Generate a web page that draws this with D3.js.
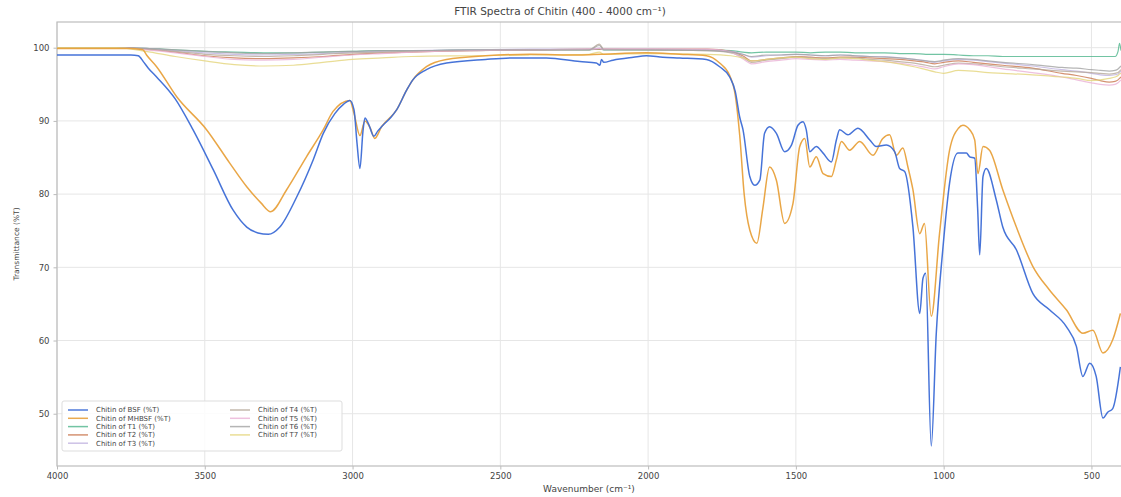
<!DOCTYPE html>
<html>
<head>
<meta charset="utf-8">
<script src="https://cdn.jsdelivr.net/npm/d3@7"></script>
<style>
  body { margin: 0; background: #fff; }
  text { font-family: "DejaVu Sans", sans-serif; fill: #444; }
</style>
</head>
<body>
<div id="chart"></div>
<script>
// FTIR spectra of chitin, wavenumber (cm-1) vs transmittance (%T)

const width = 1121
const height = 497
const margin = {top: 22, right: 0, bottom: 31, left: 57}

// the two strong spectra, [wavenumber, %T]
const bsf = [
  [4000, 99.0], [3750, 99.0], [3725, 98.9], [3708, 98.1], [3691, 97.2], [3663, 96.0],
  [3600, 93.0], [3540, 88.8], [3471, 83.3], [3404, 77.8], [3358, 75.5], [3320, 74.7],
  [3285, 74.5], [3246, 75.5], [3189, 79.6], [3133, 84.7], [3099, 88.3], [3060, 91.0],
  [3030, 92.3], [3009, 92.8], [2995, 91.5], [2985, 87.0], [2975, 83.5], [2965, 88.5],
  [2958, 90.4], [2945, 89.5], [2928, 87.9], [2915, 88.6], [2902, 89.2], [2870, 90.5],
  [2851, 91.5], [2817, 94.2], [2796, 95.6], [2750, 97.0], [2682, 97.9], [2550, 98.4],
  [2457, 98.6], [2344, 98.6], [2231, 98.1], [2175, 97.9], [2163, 97.6], [2158, 98.4],
  [2150, 98.0], [2119, 98.3], [2050, 98.7], [2006, 98.9], [1950, 98.7], [1893, 98.6],
  [1803, 98.4], [1758, 97.4], [1724, 96.0], [1705, 94.0], [1690, 90.5], [1679, 88.8],
  [1656, 82.4], [1639, 81.2], [1622, 81.9], [1606, 88.3], [1589, 89.2], [1566, 88.3],
  [1538, 85.8], [1515, 86.7], [1493, 89.4], [1476, 89.9], [1465, 88.8], [1453, 85.8],
  [1431, 86.5], [1408, 85.6], [1380, 84.4], [1363, 87.4], [1352, 88.8], [1324, 88.1],
  [1290, 89.0], [1250, 87.4], [1228, 86.5], [1194, 86.7], [1166, 85.8], [1149, 83.5],
  [1132, 83.1], [1104, 75.5], [1081, 63.7], [1070, 68.5], [1061, 69.2], [1042, 45.6],
  [1025, 61.0], [1003, 72.4], [980, 81.5], [952, 85.6], [923, 85.6], [912, 85.1],
  [895, 84.9], [885, 78.0], [878, 71.7], [867, 82.4], [856, 83.5], [822, 79.2],
  [800, 75.5], [754, 72.4], [698, 66.4], [642, 64.2], [585, 61.9], [551, 59.2],
  [529, 55.1], [506, 56.9], [484, 55.1], [461, 49.4], [445, 50.2], [428, 50.7], [402, 56.4]
]

const mhbsf = [
  [4000, 99.9], [3750, 99.9], [3720, 99.8], [3709, 99.7], [3697, 99.0], [3663, 97.4],
  [3595, 93.3], [3494, 88.8], [3415, 84.2], [3358, 81.0], [3310, 78.8], [3277, 77.6],
  [3223, 80.6], [3156, 85.1], [3099, 88.8], [3066, 91.3], [3009, 92.8], [2995, 91.0],
  [2975, 88.0], [2958, 90.0], [2940, 89.0], [2925, 87.6], [2902, 89.2], [2851, 91.5],
  [2817, 94.2], [2796, 95.6], [2750, 97.4], [2682, 98.4], [2550, 98.9], [2400, 99.1],
  [2231, 99.0], [2160, 99.1], [2006, 99.3], [1893, 99.1], [1803, 98.9], [1758, 97.9],
  [1724, 96.2], [1705, 93.5], [1690, 88.0], [1675, 80.0], [1656, 75.1], [1632, 73.3],
  [1612, 78.0], [1589, 83.7], [1566, 81.9], [1538, 76.0], [1510, 78.7], [1487, 86.5],
  [1470, 87.6], [1453, 83.7], [1431, 85.1], [1408, 82.8], [1380, 82.4], [1363, 84.7],
  [1346, 87.2], [1318, 86.0], [1284, 87.2], [1239, 85.3], [1206, 87.6], [1183, 88.1],
  [1160, 85.3], [1138, 86.3], [1121, 83.7], [1104, 80.6], [1081, 74.6], [1065, 76.0],
  [1042, 63.3], [1014, 74.6], [980, 86.0], [950, 89.0], [935, 89.4], [912, 88.8],
  [895, 87.4], [884, 82.8], [867, 86.5], [845, 86.0], [800, 80.6], [754, 75.5],
  [698, 70.1], [642, 66.9], [585, 64.2], [529, 61.0], [495, 61.4], [461, 58.3],
  [428, 60.1], [402, 63.7]
]

// the faint T1-T7 spectra share one wavenumber grid
const paleWn = [4000, 3800, 3700, 3600, 3500, 3400, 3300, 3200, 3100, 3000, 2900, 2800,
  2600, 2400, 2200, 2165, 2150, 2000, 1800, 1720, 1680, 1650, 1600, 1550, 1500, 1450,
  1400, 1350, 1300, 1250, 1200, 1150, 1100, 1060, 1030, 1000, 950, 900, 850, 800, 700,
  600, 550, 500, 470, 440, 420, 410, 405, 400]

const t1 = [100, 100, 99.9, 99.7, 99.5, 99.4, 99.3, 99.3, 99.4, 99.5, 99.6, 99.6,
  99.7, 99.7, 99.7, 99.8, 99.7, 99.7, 99.7, 99.6, 99.4, 99.3, 99.4, 99.4, 99.4, 99.3,
  99.4, 99.4, 99.3, 99.3, 99.3, 99.2, 99.2, 99.1, 99.1, 99.1, 99.0, 98.9, 98.9, 98.8, 98.8,
  98.8, 98.8, 98.8, 98.8, 98.8, 98.8, 99.5, 100.6, 99.6]
const t2 = [100, 100, 99.8, 99.4, 98.9, 98.6, 98.5, 98.6, 98.8, 99.1, 99.3, 99.4,
  99.6, 99.7, 99.8, 99.8, 99.8, 99.8, 99.8, 99.5, 98.9, 98.2, 98.4, 98.6, 98.8, 98.7,
  98.6, 98.7, 98.7, 98.6, 98.5, 98.4, 98.2, 98.0, 97.8, 98.0, 98.2, 98.0, 97.8, 97.6, 97.2,
  96.5, 96.2, 95.8, 95.5, 95.3, 95.4, 95.6, 95.8, 96.0]
const t3 = [100, 100, 99.9, 99.6, 99.3, 99.1, 99.0, 99.1, 99.2, 99.4, 99.5, 99.6,
  99.7, 99.8, 99.8, 99.9, 99.8, 99.8, 99.7, 99.5, 99.1, 98.7, 98.9, 99.0, 99.1, 99.0,
  98.9, 99.0, 98.9, 98.8, 98.8, 98.6, 98.4, 98.2, 98.0, 98.2, 98.4, 98.3, 98.1, 97.9, 97.5,
  97.0, 96.8, 96.5, 96.3, 96.2, 96.3, 96.4, 96.6, 96.8]
const t4 = [100, 100, 99.8, 99.5, 99.1, 98.9, 98.8, 98.9, 99.1, 99.3, 99.4, 99.5,
  99.6, 99.7, 99.7, 100.5, 99.8, 99.7, 99.6, 99.3, 98.7, 98.0, 98.3, 98.5, 98.7, 98.6,
  98.5, 98.6, 98.6, 98.4, 98.3, 98.1, 97.9, 97.6, 97.4, 97.6, 97.9, 97.8, 97.6, 97.4, 97.1,
  96.8, 96.7, 96.6, 96.5, 96.4, 96.5, 96.6, 96.8, 97.0]
const t5 = [100, 100, 99.7, 99.3, 98.8, 98.4, 98.3, 98.4, 98.7, 99.0, 99.2, 99.4,
  99.6, 99.7, 99.8, 99.9, 99.8, 99.8, 99.8, 99.4, 98.5, 97.8, 98.1, 98.3, 98.5, 98.4,
  98.3, 98.4, 98.3, 98.2, 98.1, 97.9, 97.6, 97.3, 97.1, 97.4, 97.8, 97.7, 97.4, 97.1, 96.6,
  96.0, 95.6, 95.2, 95.0, 94.9, 95.0, 95.2, 95.4, 95.6]
const t6 = [100, 100, 99.9, 99.7, 99.5, 99.3, 99.2, 99.3, 99.4, 99.5, 99.6, 99.6,
  99.7, 99.7, 99.7, 100.3, 99.7, 99.7, 99.6, 99.4, 99.1, 98.8, 99.0, 99.0, 99.1, 99.0,
  98.9, 99.0, 98.9, 98.8, 98.7, 98.6, 98.4, 98.2, 98.1, 98.3, 98.5, 98.4, 98.2, 98.0, 97.7,
  97.3, 97.2, 97.0, 96.9, 96.8, 96.9, 97.1, 97.3, 97.5]
const t7 = [100, 100, 99.5, 98.8, 98.2, 97.7, 97.5, 97.6, 98.0, 98.4, 98.6, 98.8,
  98.9, 99.0, 99.1, 99.4, 99.1, 99.2, 99.1, 98.9, 98.6, 98.2, 98.4, 98.6, 98.7, 98.5,
  98.4, 98.6, 98.5, 98.3, 98.1, 97.8, 97.4, 97.0, 96.7, 96.5, 96.9, 96.8, 96.6, 96.5, 96.3,
  96.0, 95.8, 95.5, 95.6, 95.8, 96.0, 96.2, 96.4, 96.5]

const seriesNames = ["Chitin of BSF (%T)", "Chitin of MHBSF (%T)", "Chitin of T1 (%T)",
  "Chitin of T2 (%T)", "Chitin of T3 (%T)", "Chitin of T4 (%T)", "Chitin of T5 (%T)",
  "Chitin of T6 (%T)", "Chitin of T7 (%T)"]
const seriesColors = ["#3c6bd6", "#e8a13c", "#4fb58c", "#c9774f", "#bfb2e0",
  "#b5a898", "#eab2d6", "#a3a3a3", "#e4d47a"]

const xTicks = [4000, 3500, 3000, 2500, 2000, 1500, 1000, 500]
const yTicks = [50, 60, 70, 80, 90, 100]

const pale = [t1, t2, t3, t4, t5, t6, t7].map(vals => vals.map((v, i) => [paleWn[i], v]))
const allSeries = [bsf, mhbsf, ...pale]

const x = d3.scaleLinear().domain([4000, 400]).range([margin.left, width - margin.right])
const y = d3.scaleLinear().domain([42.86, 103.51]).range([height - margin.bottom, margin.top])

const svg = d3.select("#chart").append("svg")
  .attr("width", width)
  .attr("height", height)

svg.append("defs").append("clipPath").attr("id", "plot")
  .append("rect")
  .attr("x", margin.left).attr("y", margin.top)
  .attr("width", width - margin.left - margin.right)
  .attr("height", height - margin.top - margin.bottom)

// grid
svg.append("g")
  .selectAll("line.gx")
  .data(xTicks)
  .join("line")
  .attr("x1", d => x(d)).attr("x2", d => x(d))
  .attr("y1", margin.top).attr("y2", height - margin.bottom)
  .attr("stroke", "#e6e6e6")

svg.append("g")
  .selectAll("line.gy")
  .data(yTicks)
  .join("line")
  .attr("x1", margin.left).attr("x2", width - margin.right)
  .attr("y1", d => y(d)).attr("y2", d => y(d))
  .attr("stroke", "#e6e6e6")

// axes
const xAxis = svg.append("g")
  .attr("transform", `translate(0,${height - margin.bottom})`)
  .call(d3.axisBottom(x).tickValues(xTicks).tickFormat(d3.format("d")).tickSize(3.5).tickPadding(3))
const yAxis = svg.append("g")
  .attr("transform", `translate(${margin.left},0)`)
  .call(d3.axisLeft(y).tickValues(yTicks).tickSize(3.5).tickPadding(4))

for (const ax of [xAxis, yAxis]) {
  ax.select(".domain").remove()
  ax.selectAll("line").attr("stroke", "#bbb")
  ax.selectAll("text").attr("font-size", 8.5).attr("fill", "#444")
    .attr("font-family", "DejaVu Sans, sans-serif")
}

// frame
svg.append("rect")
  .attr("x", margin.left).attr("y", margin.top)
  .attr("width", width - margin.left - margin.right + 2)
  .attr("height", height - margin.top - margin.bottom)
  .attr("fill", "none")
  .attr("stroke", "#bdbdbd")
  .attr("stroke-width", 1.2)

// spectra: faint ones first, strong ones on top
const line = d3.line()
  .x(d => x(d[0]))
  .y(d => y(d[1]))
  .curve(d3.curveMonotoneX)

const order = [2, 3, 4, 5, 6, 7, 8, 1, 0]
svg.append("g")
  .attr("clip-path", "url(#plot)")
  .selectAll("path")
  .data(order)
  .join("path")
  .attr("d", i => line(allSeries[i]))
  .attr("fill", "none")
  .attr("stroke", i => seriesColors[i])
  .attr("stroke-width", i => i < 2 ? 1.5 : 1.2)
  .attr("stroke-opacity", i => i < 2 ? 0.95 : 0.8)
  .attr("stroke-linejoin", "round")

// title and axis labels
svg.append("text")
  .attr("x", 560).attr("y", 15)
  .attr("text-anchor", "middle")
  .attr("font-size", 10.5)
  .text("FTIR Spectra of Chitin (400 - 4000 cm⁻¹)")

svg.append("text")
  .attr("x", (margin.left + width) / 2).attr("y", height - 5)
  .attr("text-anchor", "middle")
  .attr("font-size", 9)
  .text("Wavenumber (cm⁻¹)")

svg.append("text")
  .attr("transform", `translate(19,${(margin.top + height - margin.bottom) / 2}) rotate(-90)`)
  .attr("text-anchor", "middle")
  .attr("font-size", 7.5)
  .text("Transmittance (%T)")

// legend, two columns
const legend = svg.append("g").attr("transform", "translate(62,401)")
legend.append("rect")
  .attr("width", 280).attr("height", 50)
  .attr("rx", 2)
  .attr("fill", "#fff").attr("fill-opacity", 0.85)
  .attr("stroke", "#ddd")

const item = legend.selectAll("g.item")
  .data(seriesNames.map((name, i) => ({name, i})))
  .join("g")
  .attr("transform", d => {
    const col = d.i < 5 ? 0 : 1
    const row = d.i < 5 ? d.i : d.i - 5
    return `translate(${6 + col * 162},${9 + row * 8.3})`
  })
item.append("line")
  .attr("x1", 0).attr("x2", 20)
  .attr("stroke", d => seriesColors[d.i])
  .attr("stroke-width", 1.5)
  .attr("stroke-opacity", d => d.i < 2 ? 0.9 : 0.8)
item.append("text")
  .attr("x", 28).attr("dy", "0.35em")
  .attr("font-size", 7)
  .text(d => d.name)
</script>
</body>
</html>
